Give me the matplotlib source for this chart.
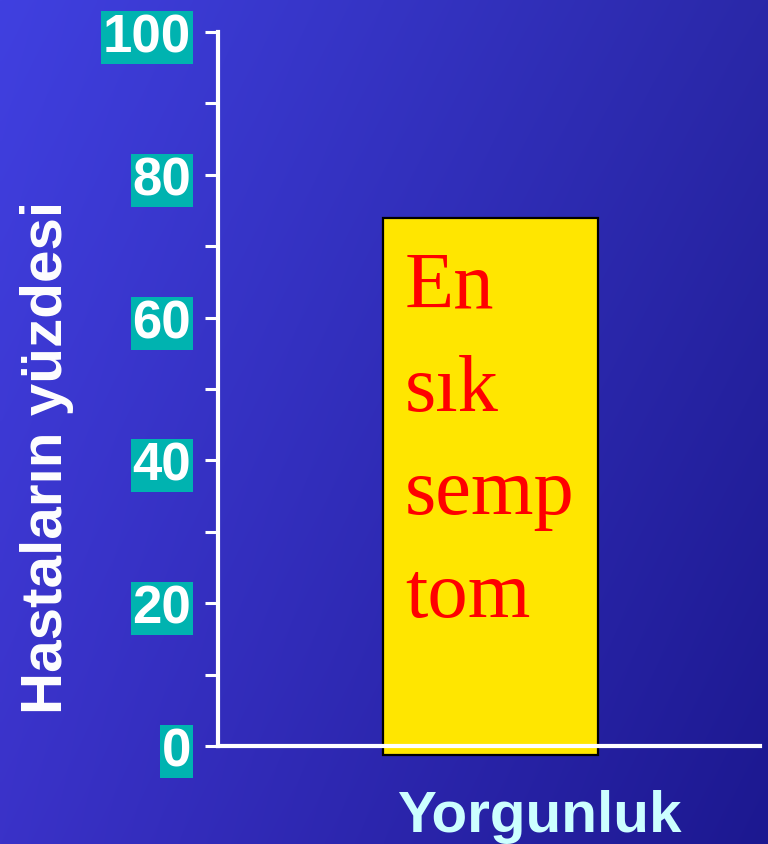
import numpy as np
import matplotlib
matplotlib.use("Agg")
import matplotlib.pyplot as plt
from matplotlib.ticker import MultipleLocator

# Data
categories = ["Yorgunluk"]
values = [74]
y_ticks = [0, 20, 40, 60, 80, 100]
y_label = "Hastaların yüzdesi"
bar_note = ["En", "sık", "semp", "tom"]

W, H, DPI = 768, 845, 100
fig = plt.figure(figsize=(W / DPI, H / DPI), dpi=DPI)

# Slide-style gradient background (bright violet-blue top-left to navy bottom-right)
bg = fig.add_axes([0, 0, 1, 1], zorder=-10)
tl = np.array([64, 64, 224]) / 255
tr = np.array([42, 40, 168]) / 255
bl = np.array([58, 50, 200]) / 255
br = np.array([28, 24, 144]) / 255
u = np.linspace(0, 1, 200)[None, :, None]
v = np.linspace(0, 1, 200)[:, None, None]
grad = (1 - v) * ((1 - u) * tl + u * tr) + v * ((1 - u) * bl + u * br)
bg.imshow(grad, aspect="auto", extent=[0, 1, 0, 1], interpolation="bilinear")
bg.axis("off")

ax = fig.add_axes([218 / W, 1 - 747 / H, (760 - 218) / W, (747 - 33) / H])
ax.patch.set_alpha(0)

x = np.arange(len(categories))
bar_w = 0.8
base = -1.3  # bar foot sits just under the axis line
ax.bar(x, np.array(values) - base, bottom=base, width=bar_w, color="#FFE600",
       edgecolor="black", linewidth=1.6, clip_on=False, zorder=2)

ax.set_xlim(-1.014, 1.003)
ax.set_ylim(0, 100)

for side in ("top", "right"):
    ax.spines[side].set_visible(False)
for side in ("left", "bottom"):
    ax.spines[side].set_color("white")
    ax.spines[side].set_linewidth(3)
    ax.spines[side].set_zorder(3)

ax.set_xticks([])
ax.set_yticks(y_ticks)
ax.yaxis.set_minor_locator(MultipleLocator(10))
ax.tick_params(axis="y", which="both", direction="out", length=9.5, width=2.2,
               color="white", pad=10)
ax.tick_params(axis="y", which="major", labelsize=38, labelcolor="white")
for lab in ax.get_yticklabels():
    lab.set_fontfamily("Liberation Sans")
    lab.set_fontweight("bold")
    lab.set_bbox(dict(boxstyle="square,pad=0.03", facecolor="#00B3B0", edgecolor="none"))

# Text written inside the bar
for i, line in enumerate(bar_note):
    ax.annotate(line, xy=(x[0] - bar_w / 2, values[0]), xycoords="data",
                xytext=(22, -(89 + i * 103)), textcoords="offset pixels",
                ha="left", va="baseline", color="red", fontsize=58,
                family="Liberation Serif", zorder=4)

fig.text(539 / W, 1 - 832 / H, categories[0], ha="center", va="baseline",
         color="#CCFFFF", fontsize=42, fontweight="bold", family="Liberation Sans")
fig.text(47 / W, 1 - 457 / H, y_label, ha="center", va="center", rotation=90,
         color="white", fontsize=42, fontweight="bold", family="Liberation Sans")

fig.savefig("out.png", dpi=DPI)
